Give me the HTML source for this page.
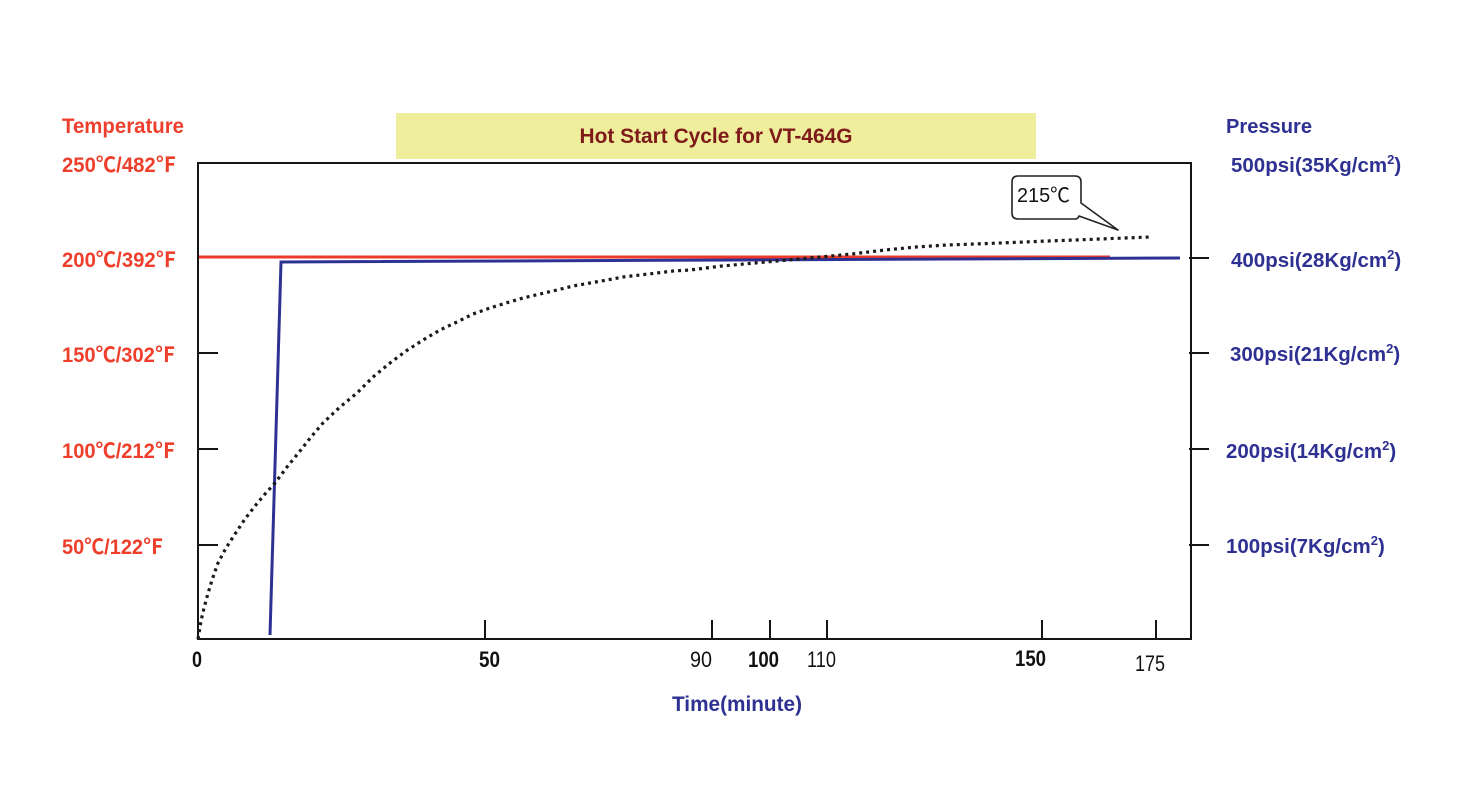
<!DOCTYPE html>
<html>
<head>
<meta charset="utf-8">
<style>
  html, body { margin: 0; padding: 0; background: #ffffff; }
  body { width: 1474px; height: 799px; overflow: hidden; }
  svg { display: block; }
  text { font-family: "Liberation Sans", "Noto Sans CJK SC", sans-serif; }
  .tl { fill: #ee3f2c; font-weight: bold; font-size: 21px; }
  .pr { fill: #2e3192; font-weight: bold; font-size: 20.5px; }
  .tk { fill: #111111; font-size: 22px; }
</style>
</head>
<body>
<svg width="1474" height="799" viewBox="0 0 1474 799" xmlns="http://www.w3.org/2000/svg">
  <rect x="0" y="0" width="1474" height="799" fill="#ffffff"/>

  <!-- Title box -->
  <rect x="396" y="113" width="640" height="46" fill="#eeee9c"/>
  <text x="716" y="143" text-anchor="middle" font-size="21" font-weight="bold" fill="#7e1a1a" textLength="273" lengthAdjust="spacingAndGlyphs">Hot Start Cycle for VT-464G</text>

  <!-- Left labels -->
  <text class="tl" x="62" y="133" textLength="122" lengthAdjust="spacingAndGlyphs">Temperature</text>
  <text class="tl" x="62" y="172" textLength="114" lengthAdjust="spacingAndGlyphs">250℃/482℉</text>
  <text class="tl" x="62" y="267" textLength="114" lengthAdjust="spacingAndGlyphs">200℃/392℉</text>
  <text class="tl" x="62" y="362" textLength="113" lengthAdjust="spacingAndGlyphs">150℃/302℉</text>
  <text class="tl" x="62" y="458" textLength="113" lengthAdjust="spacingAndGlyphs">100℃/212℉</text>
  <text class="tl" x="62" y="554" textLength="101" lengthAdjust="spacingAndGlyphs">50℃/122℉</text>

  <!-- Right labels -->
  <text class="pr" x="1226" y="133" textLength="86" lengthAdjust="spacingAndGlyphs">Pressure</text>
  <text class="pr" x="1231" y="172">500psi(35Kg/cm<tspan font-size="13" dy="-8">2</tspan><tspan dy="8">)</tspan></text>
  <text class="pr" x="1231" y="267">400psi(28Kg/cm<tspan font-size="13" dy="-8">2</tspan><tspan dy="8">)</tspan></text>
  <text class="pr" x="1230" y="361">300psi(21Kg/cm<tspan font-size="13" dy="-8">2</tspan><tspan dy="8">)</tspan></text>
  <text class="pr" x="1226" y="458">200psi(14Kg/cm<tspan font-size="13" dy="-8">2</tspan><tspan dy="8">)</tspan></text>
  <text class="pr" x="1226" y="553">100psi(7Kg/cm<tspan font-size="13" dy="-8">2</tspan><tspan dy="8">)</tspan></text>

  <!-- Axes box -->
  <rect x="198" y="163" width="993" height="476" fill="none" stroke="#151515" stroke-width="2"/>

  <!-- Left ticks (inward) -->
  <g stroke="#151515" stroke-width="2">
    <line x1="198" y1="353" x2="218" y2="353"/>
    <line x1="198" y1="449" x2="218" y2="449"/>
    <line x1="198" y1="545" x2="218" y2="545"/>
    <!-- Right ticks (outward) -->
    <line x1="1189" y1="258" x2="1209" y2="258"/>
    <line x1="1189" y1="353" x2="1209" y2="353"/>
    <line x1="1189" y1="449" x2="1209" y2="449"/>
    <line x1="1189" y1="545" x2="1209" y2="545"/>
    <!-- Bottom ticks (inward) -->
    <line x1="485" y1="620" x2="485" y2="639"/>
    <line x1="712" y1="620" x2="712" y2="639"/>
    <line x1="770" y1="620" x2="770" y2="639"/>
    <line x1="827" y1="620" x2="827" y2="639"/>
    <line x1="1042" y1="620" x2="1042" y2="639"/>
    <line x1="1156" y1="620" x2="1156" y2="639"/>
  </g>

  <!-- Bottom tick labels -->
  <text class="tk" x="192" y="667" font-weight="bold" textLength="10" lengthAdjust="spacingAndGlyphs">0</text>
  <text class="tk" x="479" y="667" font-weight="bold" textLength="21" lengthAdjust="spacingAndGlyphs">50</text>
  <text class="tk" x="690" y="667" textLength="22" lengthAdjust="spacingAndGlyphs">90</text>
  <text class="tk" x="748" y="667" font-weight="bold" textLength="31" lengthAdjust="spacingAndGlyphs">100</text>
  <text class="tk" x="807" y="667" textLength="29" lengthAdjust="spacingAndGlyphs">110</text>
  <text class="tk" x="1015" y="666" font-weight="bold" textLength="31" lengthAdjust="spacingAndGlyphs">150</text>
  <text class="tk" x="1135" y="671" textLength="30" lengthAdjust="spacingAndGlyphs">175</text>

  <!-- X axis title -->
  <text x="672" y="711" font-size="21" font-weight="bold" fill="#2e3192" textLength="130" lengthAdjust="spacingAndGlyphs">Time(minute)</text>

  <!-- Red temperature line -->
  <line x1="199" y1="257" x2="1110" y2="257" stroke="#ee3a2a" stroke-width="3"/>

  <!-- Blue pressure line -->
  <polyline points="270,635 281,262 1180,258" fill="none" stroke="#2e3192" stroke-width="3" stroke-linejoin="miter"/>

  <!-- Dotted temperature curve -->
  <polyline points="198,639 201,621 204,608 207,597 212,580 218,563 226,548 235,534 245,519 255,506 265,494 275,483 287,467 300,451 311,437 323,423 340,407 357,393 373,377 390,363 406,351 423,340 440,330 457,322 473,314 490,308 506,303 523,298 540,294 557,290 573,286 590,283 607,280 623,277 640,275 657,273 673,271 690,270 722,266 755,263 788,260 820,257 852,254 885,250 916,247 947,245 975,244 1000,243 1025,242 1047,241 1075,240 1100,239 1125,238 1150,237" fill="none" stroke="#1a1a1a" stroke-width="3.2" stroke-dasharray="3,4"/>

  <!-- Callout -->
  <path d="M1018,176 H1075 Q1081,176 1081,182 V203 L1118,230 L1079,216 Q1078,219 1075,219 H1018 Q1012,219 1012,213 V182 Q1012,176 1018,176 Z" fill="#ffffff" stroke="#222222" stroke-width="1.6" stroke-linejoin="round"/>
  <text x="1017" y="202" font-size="20" fill="#111111" textLength="53" lengthAdjust="spacingAndGlyphs">215℃</text>
</svg>
</body>
</html>
